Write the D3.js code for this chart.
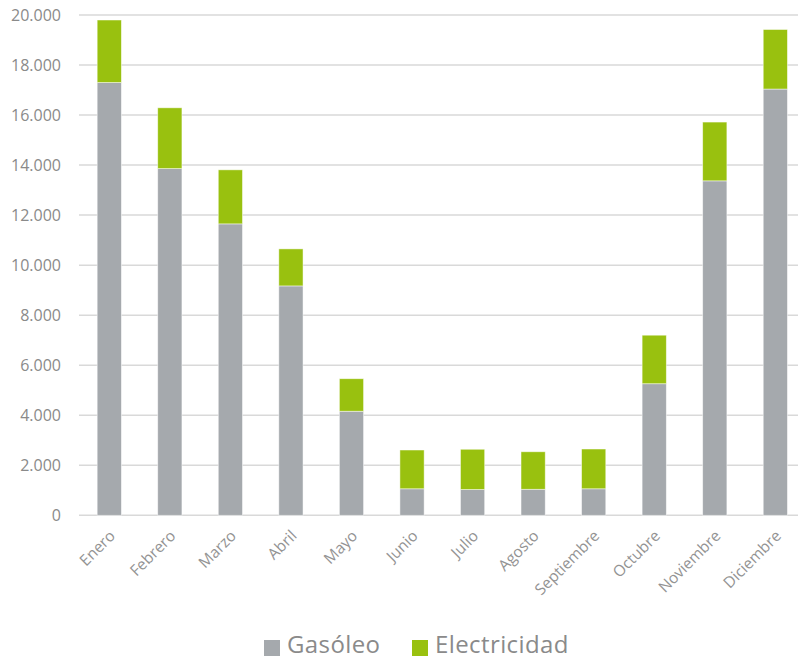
<!DOCTYPE html>
<html>
<head>
<meta charset="utf-8">
<script src="https://cdn.jsdelivr.net/npm/d3@7"></script>
<style>
  body { margin: 0; background: #fff; }
  svg { font-family: "Open Sans", sans-serif; }
</style>
</head>
<body>
<div id="chart"></div>
<script>
const months = ['Enero', 'Febrero', 'Marzo', 'Abril', 'Mayo', 'Junio', 'Julio', 'Agosto', 'Septiembre', 'Octubre', 'Noviembre', 'Diciembre'];
const gasoleo = [17300, 13860, 11650, 9170, 4160, 1060, 1030, 1040, 1060, 5260, 13370, 17040];
const electricidad = [2500, 2430, 2160, 1480, 1300, 1550, 1610, 1500, 1590, 1940, 2350, 2380];
const seriesNames = ['Gasóleo', 'Electricidad'];
const yTicks = [0, 2000, 4000, 6000, 8000, 10000, 12000, 14000, 16000, 18000, 20000];

const colors = { 'Gasóleo': '#a5a9ad', 'Electricidad': '#99c10f' };

const width = 798, height = 660;
const svg = d3.select('#chart').append('svg')
    .attr('width', width)
    .attr('height', height);

// table for the stack
const table = months.map((m, i) => ({ month: m, 'Gasóleo': gasoleo[i], 'Electricidad': electricidad[i] }));
const stacked = d3.stack().keys(seriesNames)(table);

const x = d3.scaleBand().domain(months).range([79, 805.6]).paddingInner(0.6).paddingOuter(0.3);
const y = d3.scaleLinear().domain([0, 20000]).range([515.3, 15]);

const fmt = d => d3.format(',')(d).replace(/,/g, '.');

// gridlines
svg.append('g').selectAll('line')
    .data(yTicks)
    .join('line')
    .attr('x1', 79).attr('x2', width)
    .attr('y1', d => y(d)).attr('y2', d => y(d))
    .attr('stroke', '#d9d9d9')
    .attr('stroke-width', 1.5);

// y labels
svg.append('g').selectAll('text')
    .data(yTicks)
    .join('text')
    .attr('x', 61)
    .attr('y', d => y(d))
    .attr('dy', '0.35em')
    .attr('text-anchor', 'end')
    .attr('fill', '#8a8a8a')
    .style('font-size', '16px')
    .text(fmt);

// bars
svg.append('g').selectAll('g')
    .data(stacked)
    .join('g')
    .attr('fill', d => colors[d.key])
    .selectAll('rect')
    .data(d => d)
    .join('rect')
    .attr('x', d => x(d.data.month))
    .attr('width', x.bandwidth())
    .attr('y', d => y(d[1]))
    .attr('height', d => y(d[0]) - y(d[1]))
    .attr('stroke', '#ffffff')
    .attr('stroke-opacity', 0.6)
    .attr('stroke-width', 0.8);

// x labels, rotated
svg.append('g').selectAll('text')
    .data(months)
    .join('text')
    .attr('transform', d => 'translate(' + (x(d) + x.bandwidth() / 2 + 3) + ',533) rotate(-45)')
    .attr('text-anchor', 'end')
    .attr('dy', '0.35em')
    .attr('fill', '#939393')
    .style('font-size', '15.5px')
    .text(d => d);

// legend
const legend = svg.append('g');
const legendX = [264, 412];
seriesNames.forEach((name, i) => {
    legend.append('rect')
        .attr('x', legendX[i]).attr('y', 640)
        .attr('width', 16).attr('height', 16)
        .attr('fill', colors[name]);
    legend.append('text')
        .attr('x', legendX[i] + 23).attr('y', 644.5)
        .attr('dy', '0.35em')
        .attr('fill', '#8a8a8a')
        .style('font-size', '24px')
        .style('letter-spacing', '0.4px')
        .text(name);
});
</script>
</body>
</html>
